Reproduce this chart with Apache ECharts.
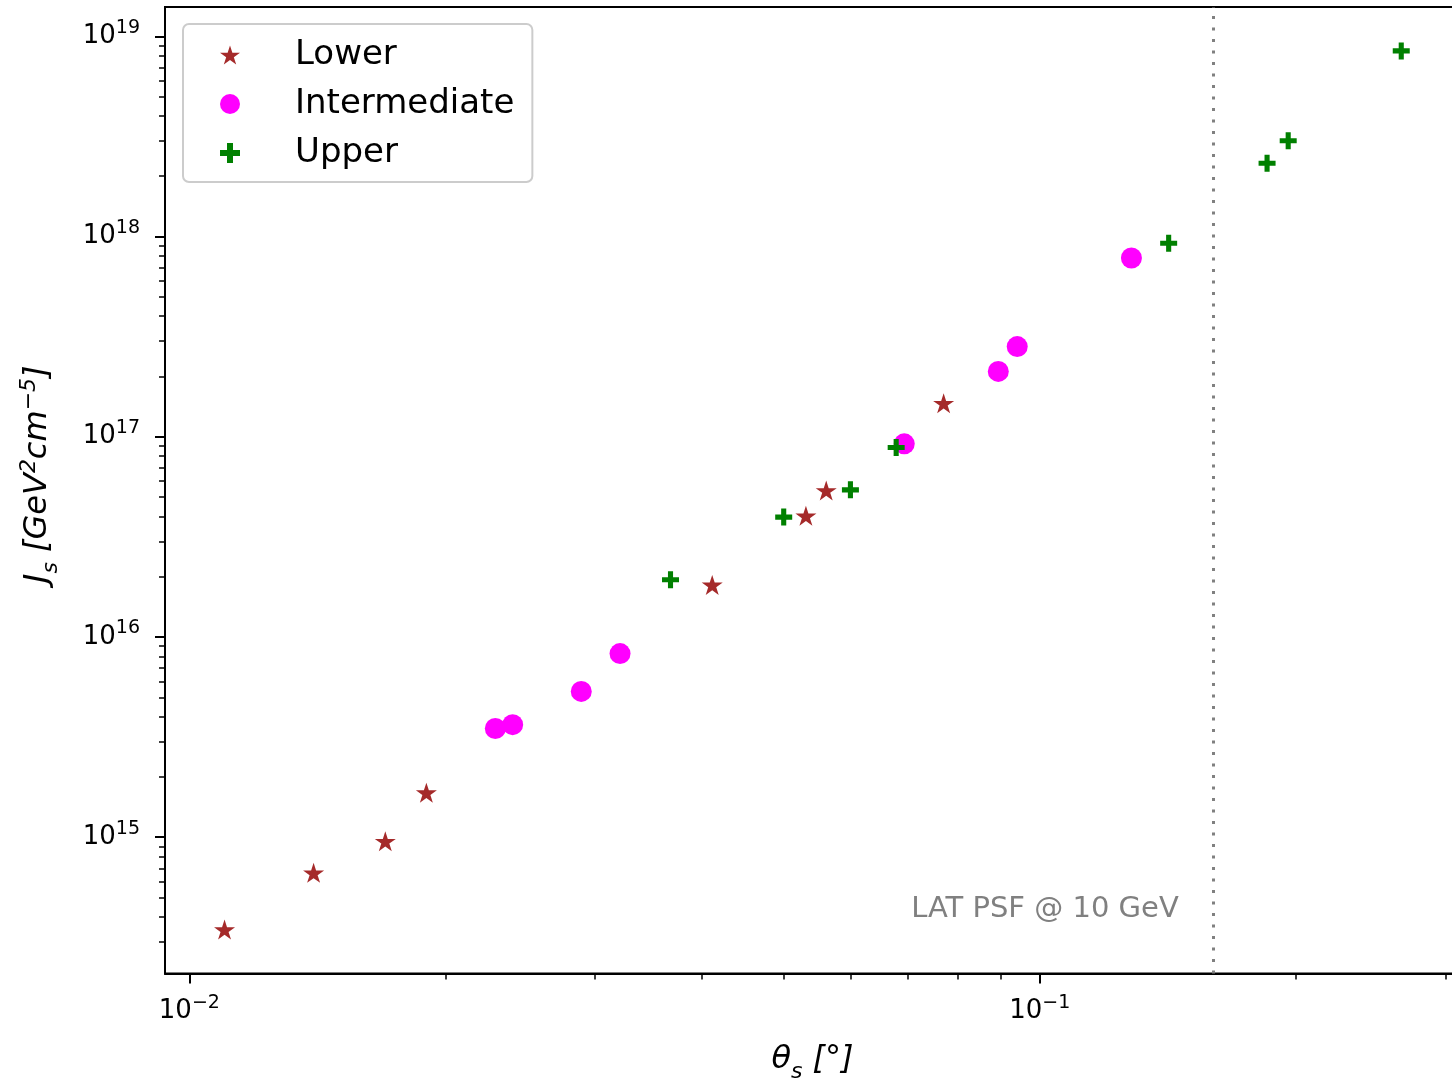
<!DOCTYPE html>
<html>
<head>
<meta charset="utf-8">
<script src="https://cdn.jsdelivr.net/npm/echarts@6/dist/echarts.min.js"></script>
<style>
html, body { margin: 0; padding: 0; background: #fff; }
#myChart { width: 1452px; height: 1079px; }
</style>
</head>
<body>
<div id="myChart"></div>
<script>
// theta_s [deg] / J_s [GeV^2 cm^-5]
var lowerTheta = [0.0110, 0.0140, 0.0170, 0.0190, 0.0412, 0.0531, 0.0561, 0.0771];
var lowerJ = [3.46e14, 6.64e14, 9.55e14, 1.67e15, 1.82e16, 4.03e16, 5.39e16, 1.47e17];
var interTheta = [0.0229, 0.0240, 0.0289, 0.0321, 0.0693, 0.0894, 0.0941, 0.1282];
var interJ = [3.49e15, 3.65e15, 5.35e15, 8.26e15, 9.22e16, 2.12e17, 2.82e17, 7.81e17];
var upperTheta = [0.0368, 0.0500, 0.0599, 0.0678, 0.1418, 0.1851, 0.1960, 0.2662];
var upperJ = [1.93e16, 3.97e16, 5.43e16, 8.83e16, 9.25e17, 2.32e18, 3.01e18, 8.45e18];

// LAT PSF line
var psfTheta = 0.16;
var psfText = 'LAT PSF @ 10 GeV';
var psfTextJ = 4.35e14;

// axis range + ticks
var xMin = 0.009362, xMax = 0.3121;
var yMin = 2.087e14, yMax = 1.40e19;
var xMajor = [0.01, 0.1];
var xMinor = [0.02, 0.03, 0.04, 0.05, 0.06, 0.07, 0.08, 0.09, 0.2, 0.3];
var yMajor = [1e15, 1e16, 1e17, 1e18, 1e19];
var yMinor = [3e14, 4e14, 5e14, 6e14, 7e14, 8e14, 9e14,
    2e15, 3e15, 4e15, 5e15, 6e15, 7e15, 8e15, 9e15,
    2e16, 3e16, 4e16, 5e16, 6e16, 7e16, 8e16, 9e16,
    2e17, 3e17, 4e17, 5e17, 6e17, 7e17, 8e17, 9e17,
    2e18, 3e18, 4e18, 5e18, 6e18, 7e18, 8e18, 9e18];

var font = 'DejaVu Sans';
var starPath = 'path://M50,0 L61.23,34.55 L97.55,34.55 L68.17,55.9 L79.39,90.45 L50,69.1 L20.61,90.45 L31.83,55.9 L2.45,34.55 L38.77,34.55 Z';
var plusPath = 'path://M3.5,0 H6.5 V3.5 H10 V6.5 H6.5 V10 H3.5 V6.5 H0 V3.5 H3.5 Z';

function pairs(xs, ys) {
    return xs.map(function (x, i) { return [x, ys[i]]; });
}

var tickRich = {
    b: { fontFamily: font, fontSize: 26, lineHeight: 26, color: '#000', verticalAlign: 'bottom' },
    s: { fontFamily: font, fontSize: 19, lineHeight: 19, color: '#000', padding: [0, 0, 12, 0], verticalAlign: 'bottom' }
};
var titleRich = {
    i: { fontFamily: font, fontStyle: 'italic', fontSize: 32, lineHeight: 32, color: '#000', padding: [0, 0, 8, 0], verticalAlign: 'bottom' },
    sub: { fontFamily: font, fontStyle: 'italic', fontSize: 22, lineHeight: 22, color: '#000', verticalAlign: 'bottom' },
    sup: { fontFamily: font, fontStyle: 'italic', fontSize: 22, lineHeight: 22, color: '#000', padding: [0, 0, 22, 0], verticalAlign: 'bottom' }
};

function powLabel(v) {
    var e = Math.round(Math.log(v) / Math.LN10);
    return '{b|10}{s|' + (e < 0 ? '\u2212' + (-e) : e) + '}';
}

function majorAxis(min, max, ticks, extra) {
    var ax = {
        type: 'log', logBase: 10, min: min, max: max,
        axisLine: { show: true, lineStyle: { color: '#000', width: 2 } },
        axisTick: { show: true, customValues: ticks, length: 10, lineStyle: { color: '#000', width: 2 } },
        axisLabel: { customValues: ticks, formatter: powLabel, rich: tickRich, margin: 25 },
        splitLine: { show: false }
    };
    return Object.assign(ax, extra);
}

function minorAxis(min, max, ticks, pos) {
    return {
        type: 'log', logBase: 10, min: min, max: max, position: pos,
        axisLine: { show: false },
        axisTick: { show: true, customValues: ticks, length: 6, lineStyle: { color: '#000', width: 1.5 } },
        axisLabel: { show: false },
        splitLine: { show: false }
    };
}

var myChart = echarts.init(document.getElementById('myChart'));

var option = {
    animation: false,
    backgroundColor: '#fff',
    grid: {
        left: 165, top: 7, width: 1295, height: 966.5,
        show: true, borderColor: '#000', borderWidth: 2,
        containLabel: false, outerBoundsMode: 'none'
    },
    legend: {
        data: ['Lower', 'Intermediate', 'Upper'],
        orient: 'vertical', left: 183, top: 24,
        padding: [14, 18, 12, 37],
        itemWidth: 20, itemHeight: 20, itemGap: 15,
        backgroundColor: '#fff', borderColor: '#cccccc', borderWidth: 2, borderRadius: 6,
        selectedMode: false,
        textStyle: { fontFamily: font, fontSize: 34, lineHeight: 31, color: '#000', padding: [0, 0, 0, 50] }
    },
    xAxis: [
        majorAxis(xMin, xMax, xMajor, {
            position: 'bottom',
            name: '{i|\u03b8}{sub|s}{i| [\u00b0]}',
            nameLocation: 'middle', nameGap: 78,
            nameTextStyle: { rich: titleRich }
        }),
        minorAxis(xMin, xMax, xMinor, 'bottom')
    ],
    yAxis: [
        majorAxis(yMin, yMax, yMajor, {
            position: 'left',
            name: '{i|J}{sub|s}{i| [GeV}{sup|2}{i|cm}{sup|\u22125}{i|]}',
            nameLocation: 'middle', nameRotate: 90, nameGap: 103,
            nameTextStyle: { rich: titleRich, padding: [0, 0, 0, 32] }
        }),
        minorAxis(yMin, yMax, yMinor, 'left')
    ],
    series: [{
        name: 'Lower',
        type: 'scatter',
        data: pairs(lowerTheta, lowerJ),
        symbol: starPath,
        symbolSize: [21, 20],
        itemStyle: { color: '#a52a2a', opacity: 1 }
    }, {
        name: 'Intermediate',
        type: 'scatter',
        data: pairs(interTheta, interJ),
        symbol: 'circle',
        symbolSize: 21,
        itemStyle: { color: '#ff00ff', opacity: 1 }
    }, {
        name: 'Upper',
        type: 'scatter',
        data: pairs(upperTheta, upperJ),
        symbol: plusPath,
        symbolSize: 17,
        itemStyle: { color: '#008000', opacity: 1 },
        markLine: {
            silent: true,
            symbol: ['none', 'none'],
            label: { show: false },
            lineStyle: { color: '#808080', width: 3, type: [3, 8.5], cap: 'butt' },
            data: [{ xAxis: psfTheta }]
        },
        markPoint: {
            silent: true,
            symbol: 'circle',
            symbolSize: 1,
            itemStyle: { color: 'rgba(0,0,0,0)' },
            label: {
                show: true, position: 'left', distance: 34,
                formatter: psfText,
                fontFamily: font, fontSize: 29, color: '#808080'
            },
            data: [{ coord: [psfTheta, psfTextJ] }]
        }
    }]
};
option && myChart.setOption(option);

window.onresize = function () {
    myChart.resize();
};
</script>
</body>
</html>
